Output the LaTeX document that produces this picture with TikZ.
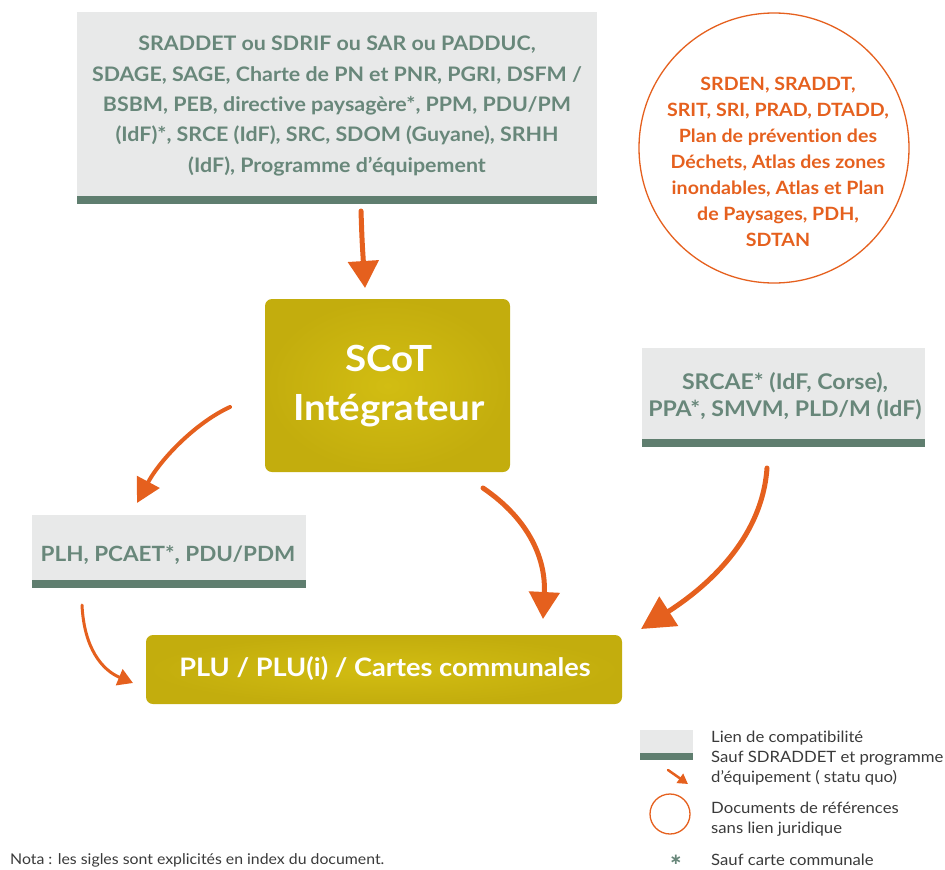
\documentclass[tikz,border=0pt]{standalone}
\usepackage{fontspec}
\setmainfont{Lato}[FakeStretch=1.07,Ligatures=NoCommon]
\newfontfamily\djvfont{DejaVu Sans}
\usetikzlibrary{arrows.meta}
\definecolor{boxgray}{HTML}{E8E9E9}
\definecolor{bargreen}{HTML}{5F7E6F}
\definecolor{txtgreen}{HTML}{68877A}
\definecolor{orng}{HTML}{E5601E}
\definecolor{olivein}{HTML}{D2BD12}
\definecolor{oliveout}{HTML}{C3AD0D}
\definecolor{darktxt}{HTML}{3A3A3A}
\tikzset{
  graybox/.style={fill=boxgray, draw=none},
  greenbar/.style={fill=bargreen, draw=none},
  olivebox/.style={inner color=olivein, outer color=oliveout, rounded corners=7pt, draw=none},
  gtext/.style={text=txtgreen, font=\bfseries\fontsize{20}{30.3}\selectfont, align=center, inner sep=0pt},
  otext/.style={text=orng, font=\bfseries\fontsize{18.3}{25.9}\selectfont, align=center, inner sep=0pt},
  wtext/.style={text=white, font=\bfseries\fontsize{36}{49}\selectfont, align=center, inner sep=0pt},
  legtext/.style={text=darktxt, font=\fontsize{15.6}{20}\selectfont, align=left, anchor=base west, inner sep=0pt},
  bigarrow/.style={draw=orng, line width=5pt, line cap=round, -{Triangle[length=27pt,width=30pt]}},
  midarrow/.style={draw=orng, line width=4pt, line cap=round, -{Triangle[length=24pt,width=25pt]}},
  smallarrow/.style={draw=orng, line width=3pt, line cap=round, -{Triangle[length=15pt,width=17pt]}},
}
\begin{document}
\begin{tikzpicture}[x=1pt,y=-1pt]
\useasboundingbox (0,0) rectangle (945,870);
% top box
\fill[graybox] (77,12) rectangle (597,196);
\fill[greenbar] (77,196) rectangle (597,204);
\node[gtext] (topbox) at (337,106) {SRADDET ou SDRIF ou SAR ou PADDUC,\\SDAGE, SAGE, Charte de PN et PNR, PGRI, DSFM /\\BSBM, PEB, directive paysagère*, PPM, PDU/PM\\(IdF)*, SRCE (IdF), SRC, SDOM (Guyane), SRHH\\(IdF), Programme d’équipement};
% circle
\node[draw=orng, line width=1.3pt, circle, minimum size=270pt, inner sep=0pt] (refcircle) at (774,148) {};
\node[otext] (circtext) at (778,162) {SRDEN, SRADDT,\\SRIT, SRI, PRAD, DTADD,\\Plan de prévention des\\Déchets, Atlas des zones\\inondables, Atlas et Plan\\de Paysages, PDH,\\SDTAN};
% SCoT
\shade[olivebox] (265,299) rectangle (510,472);
\node[wtext] (scot) at (389,386) {SCoT\\Intégrateur};
% right box
\fill[graybox] (642,348) rectangle (925,439);
\fill[greenbar] (642,439) rectangle (925,447);
\node[gtext, font=\bfseries\fontsize{21.6}{26.5}\selectfont] (rightbox) at (785,396) {SRCAE* (IdF, Corse),\\PPA*, SMVM, PLD/M (IdF)};
% PLH box
\fill[graybox] (32,515) rectangle (306,580);
\fill[greenbar] (32,580) rectangle (306,588);
\node[gtext, font=\bfseries\fontsize{21}{30}\selectfont] (plh) at (168,555) {PLH, PCAET*, PDU/PDM};
% PLU box
\shade[olivebox] (146,635) rectangle (622,704);
\node[wtext, font=\bfseries\fontsize{25.4}{30}\selectfont] (plu) at (385,669) {PLU / PLU(i) / Cartes communales};
% arrow coordinates
\coordinate (a1s) at (361,211);
\coordinate (a1e) at (365,288);
\coordinate (a2s) at (230,407);
\coordinate (a2e) at (137,503);
\coordinate (a3s) at (483,488);
\coordinate (a3e) at (543,619);
\coordinate (a4s) at (767,468);
\coordinate (a4e) at (641,629);
\coordinate (a5s) at (82,605);
\coordinate (a5e) at (133,683);
\draw[bigarrow] (a1s) .. controls (362,240) .. (a1e);
\draw[midarrow] (a2s) .. controls (195,423) and (160,460) .. (a2e);
\draw[bigarrow] (a3s) .. controls (530,520) and (546,560) .. (a3e);
\draw[bigarrow, -{Triangle[length=33pt,width=34pt]}] (a4s) .. controls (762,540) and (705,588) .. (a4e);
\draw[smallarrow] (a5s) .. controls (84,648) and (102,670) .. (a5e);
% legend
\fill[graybox] (640,730) rectangle (693,753);
\fill[greenbar] (640,753) rectangle (693,760);
\coordinate (l1s) at (668,770);
\coordinate (l1e) at (688,784);
\draw[draw=orng, line width=2.5pt, line cap=round, -{Triangle[length=10pt,width=11pt]}] (l1s) -- (l1e);
\node[draw=orng, line width=1.3pt, circle, minimum size=40pt, inner sep=0pt] (legcircle) at (670,814) {};
\node[text=txtgreen, font=\djvfont\bfseries\fontsize{15}{15}\selectfont, inner sep=0pt] (legstar) at (676,860) {∗};
\node[legtext] (leg1) at (711,742) {Lien de compatibilité};
\node[legtext] (leg2) at (711,762) {Sauf SDRADDET et programme};
\node[legtext] (leg3) at (711,782) {d’équipement ( statu quo)};
\node[legtext] (leg4) at (711,813) {Documents de références};
\node[legtext] (leg5) at (711,833) {sans lien juridique};
\node[legtext] (leg6) at (711,865) {Sauf carte communale};
\node[legtext, font=\fontsize{14.8}{20}\selectfont] (nota) at (10,864) {Nota : les sigles sont explicités en index du document.};
\end{tikzpicture}
\end{document}
